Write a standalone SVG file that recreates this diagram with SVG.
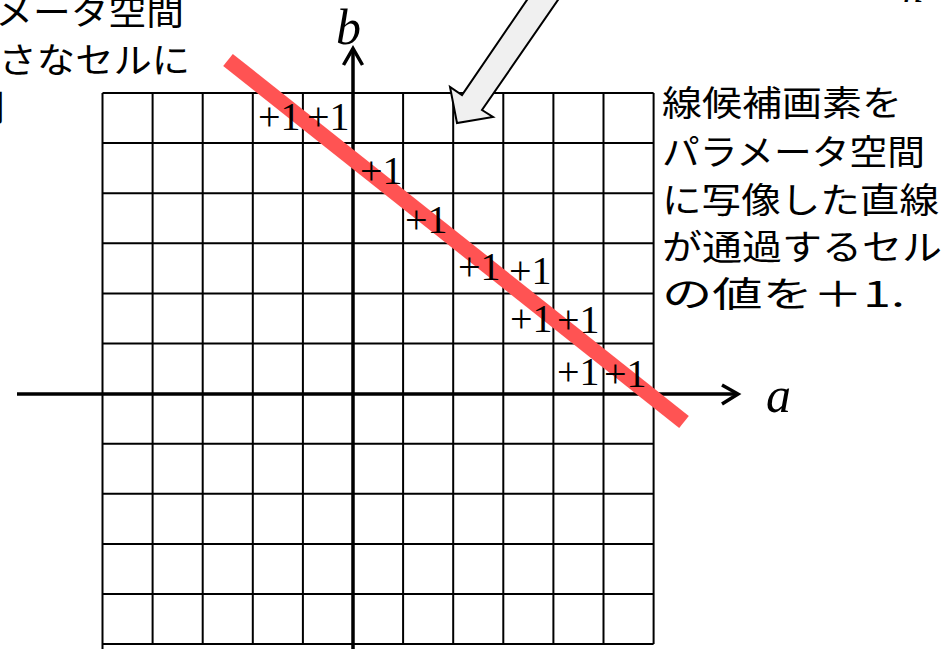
<svg xmlns="http://www.w3.org/2000/svg" width="949" height="649" viewBox="0 0 949 649">
<style>
.g{stroke:#000;stroke-width:2;fill:none}
.ax{stroke:#000;stroke-width:3.5;fill:none}
.jp{font-family:"Noto Sans CJK JP","Noto Sans",sans-serif;font-size:35px;fill:#000}
.pl{font-family:"Liberation Serif","Times New Roman",serif;font-size:40px;fill:#000}
.it{font-family:"Liberation Serif","Times New Roman",serif;font-style:italic;font-size:50px;fill:#000}
</style>
<rect width="949" height="649" fill="#fff"/>
<g id="grid" class="g">
<path d="M102.5 93V649M152.6 93V644.1M202.7 93V644.1M252.8 93V644.1M302.9 93V644.1M403.1 93V644.1M453.2 93V644.1M503.3 93V644.1M553.4 93V644.1M603.5 93V644.1M653.6 93V644.1"/>
<path d="M102.5 93H653.6M102.5 143.1H653.6M102.5 193.2H653.6M102.5 243.3H653.6M102.5 293.4H653.6M102.5 343.5H653.6M102.5 443.7H653.6M102.5 493.8H653.6M102.5 543.9H653.6M102.5 594H653.6M102.5 644.1H653.6"/>
</g>
<g id="connectors">
<g id="axis-a" class="ax"><path d="M17 394H737"/><path d="M722 385L738 394L722 404"/></g>
<g id="axis-b" class="ax"><path d="M353 649V50"/><path d="M343.5 65L353 48.5L362.5 65"/></g>
<polygon id="block-arrow" points="529,-3 462,95 450,87 457,123 493,117 482,110 560,-3" fill="#f0f0f0" stroke="#000" stroke-width="2" stroke-linejoin="miter"/>
</g>
<g id="vote-line"><line x1="228" y1="60" x2="684" y2="422" stroke="#ff5353" stroke-width="15.5"/></g>
<g id="votes" class="pl">
<text x="258" y="130">+1</text><text x="307" y="130">+1</text>
<text x="360" y="184">+1</text>
<text x="405" y="233">+1</text>
<text x="458" y="280">+1</text><text x="509" y="284">+1</text>
<text x="510" y="332">+1</text><text x="557" y="333">+1</text>
<text x="557" y="385">+1</text><text x="604" y="387">+1</text>
</g>
<g id="axis-labels" class="it">
<text x="336" y="44">b</text>
<text x="766" y="412">a</text>
<text x="903" y="2" font-size="40">n</text>
</g>
<g id="note-left" class="jp">
<text x="-79" y="25" textLength="263" lengthAdjust="spacingAndGlyphs">パラメータ空間</text>
<text x="-78" y="73" textLength="268" lengthAdjust="spacingAndGlyphs">を小さなセルに</text>
<text x="-79" y="121" textLength="84" lengthAdjust="spacingAndGlyphs">分割</text>
</g>
<g id="note-right" class="jp">
<text x="662" y="116" textLength="240" lengthAdjust="spacingAndGlyphs">線候補画素を</text>
<text x="662" y="165" textLength="263" lengthAdjust="spacingAndGlyphs">パラメータ空間</text>
<text x="662" y="213" textLength="277" lengthAdjust="spacingAndGlyphs">に写像した直線</text>
<text x="662" y="260" textLength="280" lengthAdjust="spacingAndGlyphs">が通過するセル</text>
<text x="662" y="307" textLength="243" lengthAdjust="spacingAndGlyphs">の値を＋1.</text>
</g>
</svg>
